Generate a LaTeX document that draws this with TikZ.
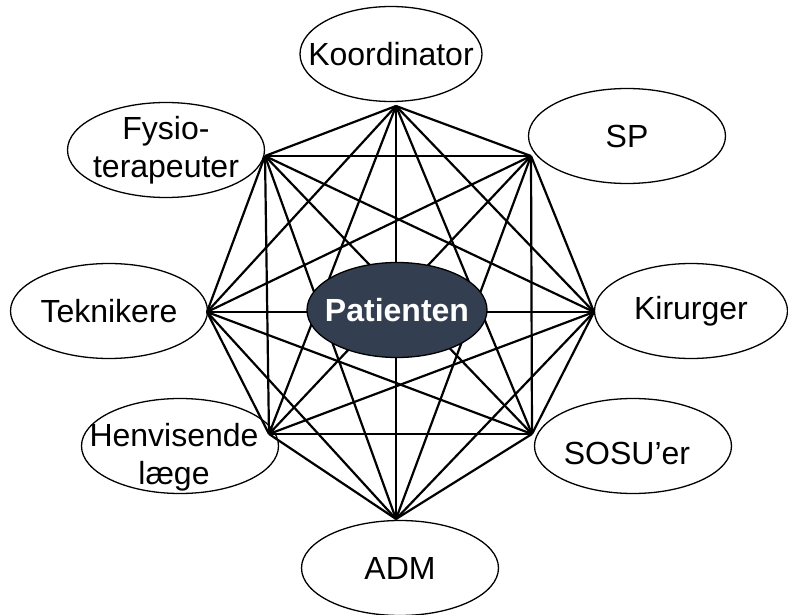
\documentclass[tikz,border=0pt]{standalone}
\usepackage{fontspec}
\setmainfont{Liberation Sans}
\usepackage{xcolor}
\usetikzlibrary{shapes.geometric}
\definecolor{patblue}{RGB}{51,63,80}

\begin{document}
\begin{tikzpicture}[x=1pt,y=-1pt]
    \tikzstyle{role}=[ellipse,draw,line width=1.3pt,minimum width=197pt,minimum height=95pt,inner xsep=-50pt,inner ysep=-25pt,align=center,font=\fontsize{32}{38}\selectfont]
    \tikzstyle{roletext}=[align=center,font=\fontsize{32}{38}\selectfont]
    \tikzstyle{link}=[line width=2.2pt]
    \useasboundingbox (0,0) rectangle (788,615);

    \coordinate (1) at (396,106);
    \coordinate (2) at (531,156);
    \coordinate (3) at (594,312);
    \coordinate (4) at (532,434);
    \coordinate (5) at (396,519);
    \coordinate (6) at (269,434);
    \coordinate (7) at (207,312);
    \coordinate (8) at (265,156);

    \foreach \i in {1,...,7}{
        \pgfmathtruncatemacro\k{\i+1}
        \foreach \j in {\k,...,8}
            \draw[link] (\i) -- (\j);
    }

    \node[role,minimum width=182pt] (koord) at (391,54) {Koordinator};
    \node[role] (sp) at (627,136) {SP};
    \node[role,minimum width=193pt] (kir) at (691,311) {Kirurger};
    \node[role,label={[roletext,xshift=-6pt,yshift=-7pt]center:SOSU’er}] (sosu) at (633,446) {};
    \node[role] (adm) at (400,568) {ADM};
    \node[role,label={[roletext,xshift=-6pt,yshift=-11pt]center:Henvisende\\læge}] (henv) at (180,446) {};
    \node[role] (tekn) at (109,311) {Teknikere};
    \node[role] (fysio) at (166,150) {Fysio-\\terapeuter};

    \node[role,minimum width=180pt,fill=patblue,text=white,font=\fontsize{32}{38}\selectfont\bfseries] (pat) at (397,310) {Patienten};
\end{tikzpicture}
\end{document}
